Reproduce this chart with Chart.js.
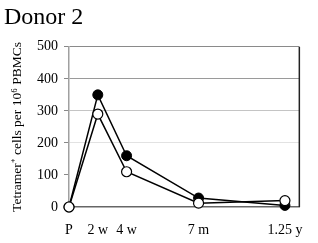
<!DOCTYPE html>
<html>
<head>
<meta charset="utf-8">
<script src="https://cdn.jsdelivr.net/npm/chart.js@4/dist/chart.umd.min.js"></script>
<style>
  html, body { margin: 0; padding: 0; background: #fff; }
  #wrap { width: 318px; height: 243px; }
</style>
</head>
<body>
<div id="wrap"><canvas id="donorChart" width="318" height="243"></canvas></div>
<script>
// time points on the x scale (P, 2 w, 4 w, 7 m, 1.25 y)
var timePoints = [0, 1, 2, 4.5, 7.5];
var timeLabels = ['P', '2 w', '4 w', '7 m', '1.25 y'];
var filledValues = [0, 350, 160, 28, 5];
var openValues = [0, 290, 110, 12, 20];
var yTicks = [0, 100, 200, 300, 400, 500];

(function() {
  var serif = "'Liberation Serif', 'Times New Roman', serif";

  function toPoints(vals) {
    return vals.map(function(v, i) { return { x: timePoints[i], y: v }; });
  }

  var gridColors = { 500: '#8a8a8a', 400: '#9a9a9a', 300: '#c4c4c4', 200: '#e2e2e2', 100: 'rgba(0,0,0,0)', 0: 'rgba(0,0,0,0)' };

  var rightEdge = {
    id: 'rightEdge',
    afterDatasetsDraw: function(chart) {
      var a = chart.chartArea, ctx = chart.ctx;
      ctx.save();
      ctx.strokeStyle = '#222';
      ctx.lineWidth = 1.5;
      ctx.beginPath();
      ctx.moveTo(a.right, a.top);
      ctx.lineTo(a.right, a.bottom);
      ctx.stroke();
      ctx.restore();
    }
  };

  new Chart(document.getElementById('donorChart'), {
    type: 'line',
    data: {
      datasets: [
        {
          label: 'open',
          data: toPoints(openValues),
          borderColor: '#000',
          borderWidth: 1.5,
          pointBackgroundColor: '#fff',
          pointBorderColor: '#000',
          pointBorderWidth: 1.2,
          pointRadius: 5,
          tension: 0,
          clip: false
        },
        {
          label: 'filled',
          data: toPoints(filledValues),
          borderColor: '#000',
          borderWidth: 1.5,
          pointBackgroundColor: '#000',
          pointBorderColor: '#000',
          pointBorderWidth: 1,
          pointRadius: 5,
          tension: 0,
          clip: false
        }
      ]
    },
    options: {
      responsive: false,
      animation: false,
      layout: { padding: { top: 0, right: 9, bottom: 0, left: 4 } },
      plugins: {
        legend: { display: false },
        tooltip: { enabled: false },
        title: {
          display: true,
          text: 'Donor 2',
          align: 'start',
          color: '#000',
          font: { family: serif, size: 24, weight: 'normal' },
          padding: { top: 3, bottom: 15 }
        }
      },
      scales: {
        x: {
          type: 'linear',
          min: 0,
          max: 8,
          afterBuildTicks: function(scale) {
            scale.ticks = timePoints.map(function(v) { return { value: v }; });
          },
          afterFit: function(scale) { scale.height = 36; },
          grid: { display: false, drawTicks: false },
          border: { display: true, color: '#666', width: 1.5 },
          ticks: {
            color: '#000',
            padding: 15,
            maxRotation: 0,
            autoSkip: false,
            font: { family: serif, size: 14 },
            callback: function(v) {
              var i = timePoints.indexOf(v);
              return i >= 0 ? timeLabels[i] : '';
            }
          }
        },
        y: {
          min: 0,
          max: 500,
          afterBuildTicks: function(scale) {
            scale.ticks = yTicks.map(function(v) { return { value: v }; });
          },
          afterFit: function(scale) { scale.width = 65; },
          border: { display: true, color: '#a0a0a0', width: 1.5 },
          grid: {
            drawTicks: true,
            tickLength: 5,
            tickColor: '#888',
            lineWidth: 1,
            color: function(ctx) { return ctx.tick ? gridColors[ctx.tick.value] : 'rgba(0,0,0,0)'; },
            borderDash: function(ctx) { return ctx.tick && ctx.tick.value === 500 ? [] : [3, 2]; }
          },
          ticks: {
            color: '#000',
            padding: 6,
            font: { family: serif, size: 14 }
          },
          title: {
            display: true,
            text: 'Tetramer\u207A cells per 10\u2076 PBMCs',
            color: '#000',
            font: { family: serif, size: 13.5 },
            padding: { top: 5, bottom: 0 }
          }
        }
      }
    },
    plugins: [rightEdge]
  });
})();
</script>
</body>
</html>
